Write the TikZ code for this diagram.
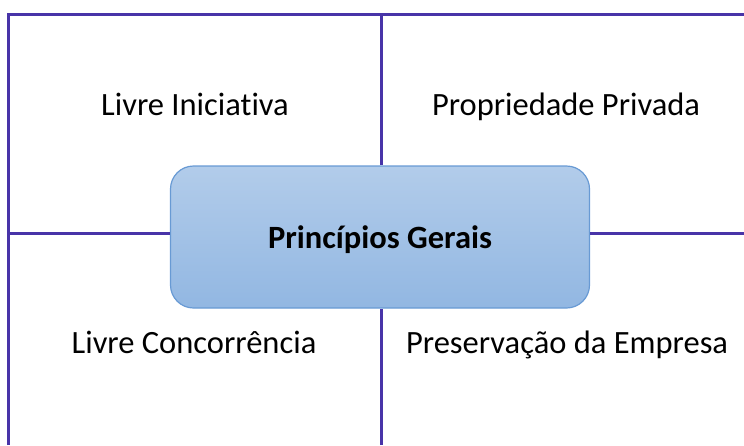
\documentclass[tikz,border=0pt]{standalone}
\usepackage{fontspec}
\setmainfont{Carlito}[Ligatures={NoCommon}]
\definecolor{gridline}{RGB}{72,52,168}
\definecolor{boxtop}{RGB}{178,204,234}
\definecolor{boxbot}{RGB}{146,183,226}
\definecolor{boxedge}{RGB}{104,154,212}
\tikzset{
  gridln/.style={draw=gridline, line width=3pt},
  principle/.style={font=\fontsize{32.5}{38}\selectfont, anchor=base, inner sep=0pt},
  centerbox/.style={draw=boxedge, line width=1.2pt, rounded corners=23pt,
    top color=boxtop, bottom color=boxbot, minimum width=419pt, minimum height=142pt,
    font=\bfseries\fontsize{32.5}{38}\selectfont, inner sep=0pt}
}
\begin{document}
\begin{tikzpicture}[x=1pt,y=1pt]
\useasboundingbox (0,0) rectangle (744,-445);
% grid coordinates
\coordinate (tl) at (8,-14);
\coordinate (tr) at (744,-14);
\coordinate (bl) at (8,-445);
\coordinate (ml) at (8,-233);
\coordinate (mr) at (744,-233);
\coordinate (tm) at (381,-14);
\coordinate (bm) at (381,-445);
% outer lines
\draw[gridln] (bl) -- (tl) -- (tr);
% centre box
\node[centerbox] (pg) at (380,-237) {\raisebox{-11pt}[0pt][0pt]{Princípios Gerais}};
% inner lines
\draw[gridln] (tm) -- (tm |- pg.north);
\draw[gridln] (bm) -- (bm |- pg.south);
\draw[gridln] (ml) -- (ml -| pg.west);
\draw[gridln] (mr) -- (mr -| pg.east);
% labels
\node[principle] (li) at (195,-115) {Livre Iniciativa};
\node[principle] (pp) at (566,-115) {Propriedade Privada};
\node[principle] (lc) at (194,-353) {Livre Concorrência};
\node[principle] (pe) at (567,-353) {Preservação da Empresa};
\end{tikzpicture}
\end{document}
